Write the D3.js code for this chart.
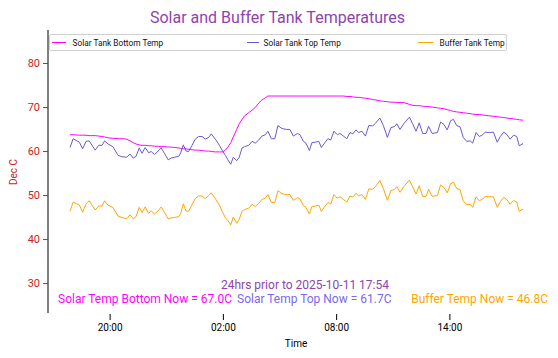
<!DOCTYPE html>
<html><head><meta charset="utf-8">
<script src="https://cdn.jsdelivr.net/npm/d3@7"></script>
<style>
body{margin:0;background:#fff;}
text{font-family:Roboto, "Noto Sans", sans-serif;}
</style></head>
<body><svg id="chart" width="558" height="358"></svg>
<script>
const startTime = "2025-10-10 17:54";
const minutesFromStart = [0,10,30,40,51,61,80,91,102,110,121,136,153,165,180,191,201,210,220,229,239,250,258,269,280,290,301,312,322,333,346,352,360,369,377,388,398,409,420,430,441,449,462,475,485,494,502,511,519,530,538,547,555,568,579,589,600,610,621,629,640,651,661,674,689,699,710,723,731,742,750,761,769,780,791,799,810,820,829,839,850,858,869,880,890,899,909,918,928,939,950,962,971,985,996,1009,1020,1032,1039,1049,1062,1079,1089,1100,1110,1121,1132,1140,1151,1168,1178,1189,1199,1210,1219,1229,1240,1250,1261,1272,1280,1291,1301,1312,1320,1333,1346,1358,1368,1379,1389,1399,1410,1420,1428,1440];
const solarBottom = [63.7,63.7,63.6,63.6,63.6,63.5,63.5,63.4,63.3,63.2,63.0,62.9,62.8,62.8,62.7,62.3,61.9,61.6,61.4,61.3,61.3,61.2,61.2,61.1,61.1,61.0,61.0,60.9,60.9,60.8,60.7,60.6,60.5,60.5,60.4,60.3,60.2,60.2,60.1,60.0,60.0,59.9,59.8,59.8,59.8,60.2,60.9,61.9,63.2,64.9,66.2,67.2,68.0,68.7,69.3,69.9,70.9,71.6,72.1,72.5,72.5,72.5,72.5,72.5,72.5,72.5,72.5,72.5,72.5,72.5,72.5,72.5,72.5,72.5,72.5,72.5,72.5,72.5,72.5,72.5,72.5,72.5,72.5,72.4,72.4,72.3,72.2,72.2,72.1,72.0,71.9,71.7,71.6,71.4,71.3,71.2,71.1,71.1,71.0,71.0,71.0,70.6,70.4,70.3,70.3,70.2,70.1,70.1,70.0,69.8,69.7,69.6,69.4,69.2,69.0,68.9,68.8,68.7,68.6,68.5,68.4,68.3,68.3,68.2,68.1,68.0,67.9,67.8,67.7,67.6,67.5,67.4,67.3,67.2,67.1,67.0];
const solarTop = [60.8,62.8,62.0,60.5,62.2,62.3,60.2,61.3,61.3,62.3,61.6,61.0,59.0,58.7,58.6,59.3,58.4,58.8,60.7,59.5,60.8,59.6,59.9,59.2,60.0,60.7,59.4,58.0,58.4,58.6,58.8,59.6,61.4,60.0,59.9,61.3,62.7,63.3,63.3,62.7,63.1,63.9,62.7,61.3,60.0,59.0,58.0,57.0,58.6,57.8,58.6,60.7,61.0,61.3,62.2,61.8,62.5,63.4,63.7,64.5,62.8,62.8,65.8,65.1,64.9,64.9,63.4,64.0,63.7,62.2,61.8,60.1,61.9,62.0,62.2,60.8,61.9,62.8,62.5,64.5,63.7,64.0,63.4,62.8,64.2,63.9,64.8,64.2,64.5,63.4,65.8,65.7,66.3,67.5,65.8,63.1,65.3,65.6,66.2,64.9,66.3,67.7,66.2,64.5,66.4,64.0,64.0,65.6,64.0,64.2,66.6,66.0,64.8,66.9,67.2,65.8,65.5,63.1,62.2,62.3,61.8,64.2,63.3,63.7,64.3,64.2,64.3,62.0,63.3,64.3,63.7,62.7,63.6,63.3,61.2,61.7];
const bufferTank = [46.3,48.4,47.7,46.1,48.0,48.7,46.6,47.5,47.5,48.7,47.7,47.2,45.2,44.9,44.6,45.5,44.6,45.1,47.2,46.0,47.3,45.8,46.4,45.7,46.4,47.3,46.0,44.6,44.8,44.9,45.1,45.8,48.0,46.4,46.3,47.8,49.2,49.8,49.8,49.2,49.9,50.5,49.2,47.7,46.1,44.8,44.2,43.2,45.0,43.6,44.5,46.3,46.7,47.0,47.9,47.4,48.1,49.0,49.3,50.1,48.3,48.3,51.0,50.3,50.1,50.1,48.8,49.4,49.1,47.6,47.2,45.7,47.4,47.5,47.7,46.3,47.4,48.3,48.0,50.1,49.3,49.6,49.0,48.4,49.8,49.5,50.4,49.8,50.1,49.0,51.4,51.3,51.9,53.3,51.5,48.8,51.0,51.3,51.9,50.6,52.0,53.4,51.9,50.2,52.1,49.7,49.7,51.3,49.7,49.9,52.3,51.7,50.5,52.6,52.9,51.5,51.2,48.7,47.8,47.9,47.2,49.6,48.7,49.1,49.7,49.6,49.6,47.2,48.5,49.5,48.9,47.9,48.8,48.4,46.3,46.8];
const seriesNames = ["Solar Tank Bottom Temp","Solar Tank Top Temp","Buffer Tank Temp"];
const seriesColors = ["#ff00ff","#6a5acd","#ffa500"];
const yTicks = [30,40,50,60,70,80];
const titleText = "Solar and Buffer Tank Temperatures";
const subtitleText = "24hrs prior to 2025-10-11 17:54";
const nowTexts = ["Solar Temp Bottom Now = 67.0C","Solar Temp Top Now = 61.7C","Buffer Temp Now = 46.8C"];
const nowColors = ["#ff00ff","#7b68ee","#ffa500"];

const parse = d3.timeParse("%Y-%m-%d %H:%M");
const t0 = parse(startTime);
const times = minutesFromStart.map(m => d3.timeMinute.offset(t0, m));
const series = [solarBottom, solarTop, bufferTank];

const svg = d3.select("#chart");
const x = d3.scaleTime().domain([times[0], times[times.length-1]]).range([70, 523]);
const y = d3.scaleLinear().domain([23.2, 87.5]).range([313, 30]);

// title
svg.append("text").attr("x", 277.5).attr("y", 23).attr("text-anchor","middle")
  .attr("font-size", 16).attr("fill", "#8e44ad").text(titleText);

// y axis
const yAxis = svg.append("g").attr("transform","translate(48,0)")
  .call(d3.axisLeft(y).tickValues(yTicks).tickSize(5).tickPadding(3));
yAxis.select(".domain").attr("stroke","#000").attr("d","M0,30V313");
yAxis.selectAll(".tick line").attr("stroke","#cc2222");
yAxis.selectAll(".tick text").attr("fill","#cc2222").attr("font-size",11).style("font-family","Roboto");

svg.append("text").attr("transform","translate(17,172) rotate(-90)").attr("text-anchor","middle")
  .attr("font-size",10).attr("fill","#cc2222").text("Dec C");

// x axis
const xTickTimes = [parse("2025-10-10 20:00"), parse("2025-10-11 02:00"), parse("2025-10-11 08:00"), parse("2025-10-11 14:00")];
const xAxis = svg.append("g").attr("transform","translate(0,314)")
  .call(d3.axisBottom(x).tickValues(xTickTimes).tickFormat(d3.timeFormat("%H:%M")).tickSize(6).tickPadding(4));
xAxis.select(".domain").remove();
xAxis.selectAll(".tick text").attr("font-size",10).attr("fill","#000").style("font-family","Roboto");
svg.append("text").attr("x", 296).attr("y", 347).attr("text-anchor","middle")
  .attr("font-size",10).attr("fill","#000").text("Time");

// lines
const line = d3.line().x((d,i) => x(times[i])).y(d => y(d));
series.forEach((s, k) => {
  svg.append("path").datum(s).attr("fill","none").attr("stroke", seriesColors[k])
    .attr("stroke-width", 1).attr("d", line);
});

// legend
svg.append("rect").attr("x",49.5).attr("y",34.5).attr("width",457).attr("height",16)
  .attr("fill","#fff").attr("stroke","#d0d0d0").attr("rx",1.5);
const legendLineX = [[52,66],[247,259],[418,433]];
const legendTextX = [72.5, 263.5, 439.5];
seriesNames.forEach((n,k) => {
  svg.append("line").attr("x1",legendLineX[k][0]).attr("x2",legendLineX[k][1]).attr("y1",42.5).attr("y2",42.5)
    .attr("stroke",seriesColors[k]).attr("stroke-width",1);
  svg.append("text").attr("x",legendTextX[k]).attr("y",45.5).attr("font-size",8.3).attr("fill","#111").text(n);
});

// bottom annotations
svg.append("text").attr("x",305).attr("y",289).attr("text-anchor","middle")
  .attr("font-size",12).attr("fill","#8e44ad").text(subtitleText);
const nowX = [58, 237, 548];
const nowAnchor = ["start","start","end"];
nowTexts.forEach((t,k) => {
  svg.append("text").attr("x",nowX[k]).attr("y",303).attr("text-anchor",nowAnchor[k])
    .attr("font-size",12).attr("fill",nowColors[k]).text(t);
});
</script></body></html>
